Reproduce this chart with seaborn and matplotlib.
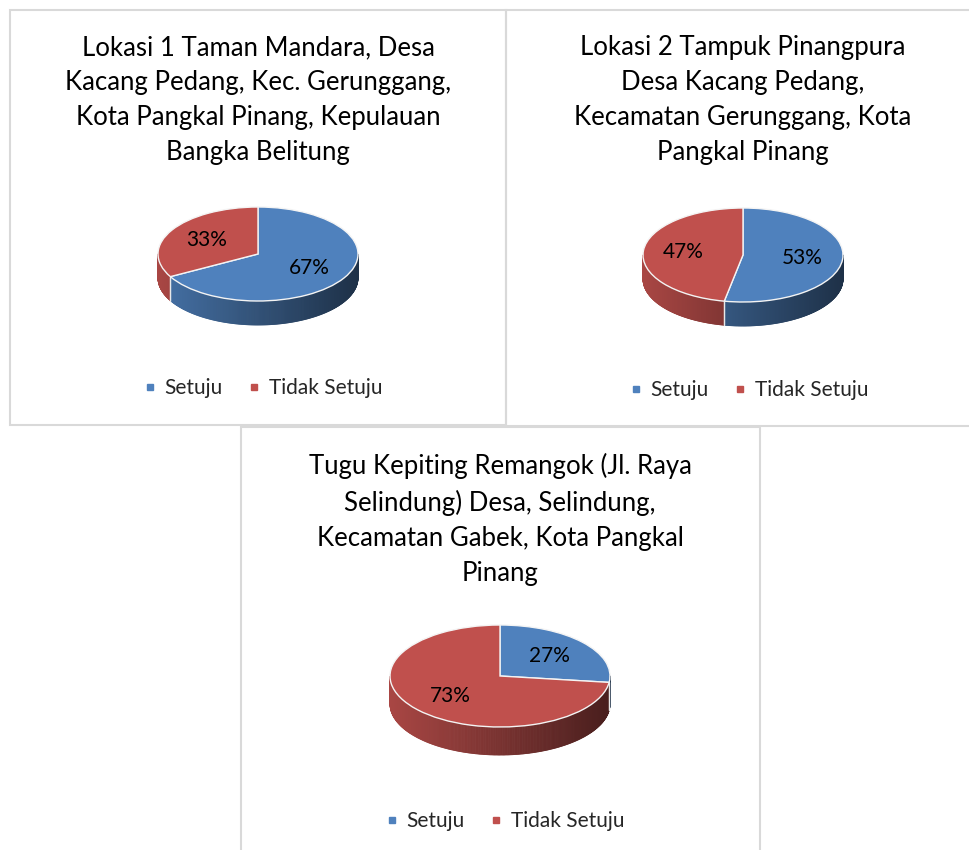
import numpy as np
import matplotlib
matplotlib.use("Agg")
import matplotlib.pyplot as plt
import seaborn as sns
from matplotlib.patches import Rectangle
from matplotlib.collections import PolyCollection
from matplotlib.lines import Line2D

sns.set_theme(style="white")
plt.rcParams['font.family'] = ['Lato', 'DejaVu Sans']

# data
kategori = ['Setuju', 'Tidak Setuju']
lokasi1 = [67, 33]
lokasi2 = [53, 47]
lokasi3 = [27, 73]
judul1 = "Lokasi 1 Taman Mandara, Desa\nKacang Pedang, Kec. Gerunggang,\nKota Pangkal Pinang, Kepulauan\nBangka Belitung"
judul2 = "Lokasi 2 Tampuk Pinangpura\nDesa Kacang Pedang,\nKecamatan Gerunggang, Kota\nPangkal Pinang"
judul3 = "Tugu Kepiting Remangok (Jl. Raya\nSelindung) Desa, Selindung,\nKecamatan Gabek, Kota Pangkal\nPinang"

warna = sns.color_palette(['#4F81BD', '#C0504D'])
W, H = 969, 850

fig = plt.figure(figsize=(W / 100, H / 100), dpi=100)
fig.patch.set_facecolor('white')


def kotak(x0, y0, x1, y1):
    # bingkai panel (koordinat piksel)
    fig.patches.append(Rectangle((x0 / W, 1 - y1 / H), (x1 - x0) / W, (y1 - y0) / H,
                                 transform=fig.transFigure, fill=False,
                                 edgecolor='#D9D9D9', linewidth=1.5))


def gelap(c, f):
    return tuple(np.clip(np.array(c[:3]) * f, 0, 1))


def pie_3d(nilai, cx, cy, a, b, d, pct=0.6):
    s = 1.35
    ax = fig.add_axes([(cx - s * a) / W, 1 - (cy + s * a) / H, 2 * s * a / W, 2 * s * a / H])
    wedges, _, autotexts = ax.pie(
        nilai, colors=warna, startangle=90, counterclock=False,
        autopct='%1.0f%%', pctdistance=pct,
        wedgeprops=dict(edgecolor='#F4F4F4', linewidth=1.0, zorder=3),
        textprops=dict(fontsize=15, color='black'))
    for t in autotexts:
        t.set_zorder(5)
    ax.set_aspect('auto')
    ax.set_xlim(-s, s)
    ax.set_ylim(-s * a / b, s * a / b)
    dep = d / b
    verts, cols = [], []
    for w, c in zip(wedges, warna):
        th = np.radians(np.linspace(w.theta1, w.theta2, 400))
        for t1, t2 in zip(th[:-1], th[1:]):
            tm = 0.5 * (t1 + t2)
            if np.sin(tm) > 0:
                continue
            x1, y1, x2, y2 = np.cos(t1), np.sin(t1), np.cos(t2), np.sin(t2)
            verts.append([(x1, y1), (x2, y2), (x2, y2 - dep), (x1, y1 - dep)])
            cols.append(gelap(c, 0.63 - 0.25 * np.cos(tm)))
        for t in (w.theta1, w.theta2):
            t = np.radians(t)
            if np.sin(t) < -0.02:
                ax.plot([np.cos(t)] * 2, [np.sin(t), np.sin(t) - dep],
                        color='#E8E8E8', lw=0.9, zorder=2)
    ax.add_collection(PolyCollection(verts, facecolors=cols, edgecolors=cols,
                                     linewidths=0.6, zorder=1))
    ax.axis('off')
    return ax


def legenda(x, y):
    h = [Line2D([], [], marker='s', ls='', color=c, markersize=5) for c in warna]
    fig.legend(h, kategori, loc='center', bbox_to_anchor=(x / W, 1 - y / H),
               ncol=2, frameon=False, fontsize=15, handlelength=0.6,
               handletextpad=0.4, columnspacing=1.2)


kotak(10, 10, 506, 425)
kotak(506, 10, 980, 426)
kotak(241, 427, 760, 870)

judul_kw = dict(ha='center', va='top', fontsize=18.5, linespacing=1.5, color='black')
fig.text(258 / W, 1 - 35 / H, judul1, **judul_kw)
fig.text(743 / W, 1 - 35 / H, judul2, **judul_kw)
fig.text(500 / W, 1 - 453 / H, judul3, **judul_kw)

pie_3d(lokasi1, 258, 254, 100, 47, 24)
pie_3d(lokasi2, 743, 255, 100, 47, 24)
pie_3d(lokasi3, 500, 676, 110, 51, 28)

legenda(263, 388)
legenda(749, 390)
legenda(505, 821)

fig.savefig('out.png', dpi=100, facecolor='white')
